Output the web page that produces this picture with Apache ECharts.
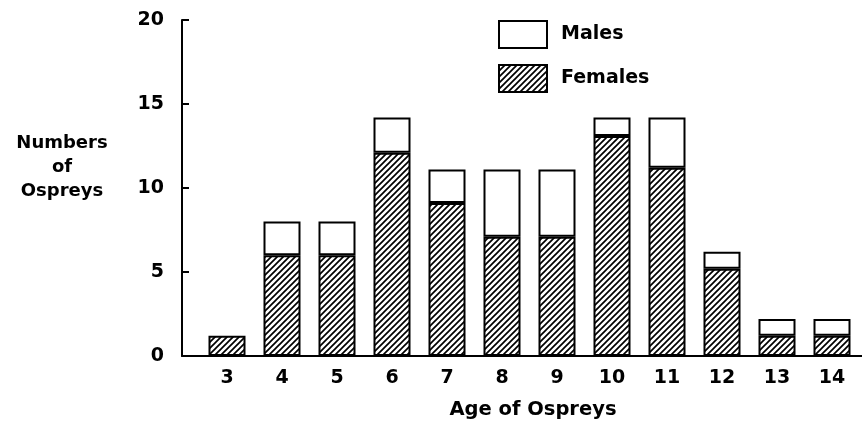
<!DOCTYPE html>
<html>
<head>
<meta charset="utf-8">
<script src="https://cdn.jsdelivr.net/npm/echarts@6/dist/echarts.min.js"></script>
<style>
  html, body { margin: 0; padding: 0; background: #fff; }
  #chart { width: 862px; height: 427px; }
</style>
</head>
<body>
<div id="chart"></div>
<script>
// ages on the x axis
const ages = ['3', '4', '5', '6', '7', '8', '9', '10', '11', '12', '13', '14']
// (some bars sit a little above whole numbers)
const females = [1.2, 6, 6, 12.1, 9.1, 7.1, 7.1, 13.1, 11.2, 5.2, 1.2, 1.2]
const males = [0, 2, 2, 2.1, 2, 4, 4, 1.1, 3, 1, 1, 1]
const yTicks = [0, 5, 10, 15, 20]

const FONT = '"DejaVu Sans", sans-serif'

// diagonal hatching for the female bars
function hatch() {
  const s = 6
  const c = document.createElement('canvas')
  c.width = s
  c.height = s
  const g = c.getContext('2d')
  g.fillStyle = '#fff'
  g.fillRect(0, 0, s, s)
  g.strokeStyle = '#000'
  g.lineWidth = 1.7
  g.beginPath()
  g.moveTo(-1, s + 1); g.lineTo(s + 1, -1)
  g.moveTo(-1, 1); g.lineTo(1, -1)
  g.moveTo(s - 1, s + 1); g.lineTo(s + 1, s - 1)
  g.stroke()
  return c
}

const chart = echarts.init(document.getElementById('chart'), null, { renderer: 'canvas' })

const labelFont = { fontFamily: FONT, fontWeight: 'bold', fontSize: 19, color: '#000' }

const option = {
  animation: false,
  backgroundColor: '#fff',
  // grid 0 carries the axis frame, grid 1 the bars (bars start a bit right of the y axis)
  grid: [
    { left: 182, right: 0, top: 20, bottom: 71 },
    { left: 199.5, right: 2.5, top: 20, bottom: 71 }
  ],
  legend: {
    data: ['Males', 'Females'],
    orient: 'vertical',
    left: 493,
    top: 15,
    icon: 'rect',
    itemWidth: 48,
    itemHeight: 27,
    itemGap: 15,
    selectedMode: false,
    textStyle: { fontFamily: FONT, fontWeight: 'bold', fontSize: 19, color: '#000', padding: [0, 0, 0, 9] }
  },
  xAxis: [
    {
      gridIndex: 0,
      type: 'value',
      min: 0,
      max: 1,
      splitLine: { show: false },
      axisLine: { show: true, lineStyle: { color: '#000', width: 2 } },
      axisTick: { show: false },
      axisLabel: { show: false }
    },
    {
      gridIndex: 1,
      type: 'category',
      data: ages,
      axisLine: { show: false },
      axisTick: { show: false },
      axisLabel: Object.assign({ margin: 13 }, labelFont)
    }
  ],
  yAxis: [
    {
      gridIndex: 0,
      type: 'value',
      min: yTicks[0],
      max: yTicks[yTicks.length - 1],
      interval: 5,
      splitLine: { show: false },
      axisLine: { show: true, lineStyle: { color: '#000', width: 2 } },
      axisTick: { show: true, inside: true, length: 7, lineStyle: { color: '#000', width: 2 } },
      axisLabel: Object.assign({ margin: 18 }, labelFont)
    },
    {
      gridIndex: 1,
      type: 'value',
      min: yTicks[0],
      max: yTicks[yTicks.length - 1],
      show: false
    }
  ],
  graphic: [
    {
      type: 'text',
      position: [62, 167],
      style: {
        text: 'Numbers\nof\nOspreys',
        align: 'center',
        verticalAlign: 'middle',
        lineHeight: 24,
        font: 'bold 18px ' + FONT,
        fill: '#000'
      }
    },
    {
      type: 'text',
      position: [533, 410],
      style: {
        text: 'Age of Ospreys',
        align: 'center',
        verticalAlign: 'middle',
        font: 'bold 19.5px ' + FONT,
        fill: '#000'
      }
    }
  ],
  series: [
    {
      name: 'Females',
      type: 'bar',
      xAxisIndex: 1,
      yAxisIndex: 1,
      stack: 'total',
      barWidth: 37,
      itemStyle: { color: { image: hatch(), repeat: 'repeat' }, borderColor: '#000', borderWidth: 2 },
      data: females
    },
    {
      name: 'Males',
      type: 'bar',
      xAxisIndex: 1,
      yAxisIndex: 1,
      stack: 'total',
      barWidth: 37,
      itemStyle: { color: '#fff', borderColor: '#000', borderWidth: 2 },
      data: males.map(v => (v > 0 ? v : '-'))
    }
  ]
}

chart.setOption(option)
</script>
</body>
</html>
